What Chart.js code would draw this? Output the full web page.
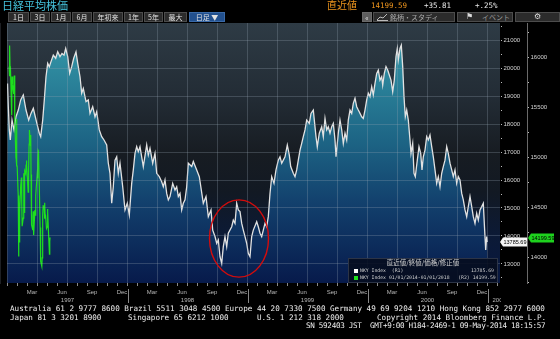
<!DOCTYPE html>
<html>
<head>
<meta charset="utf-8">
<script src="https://cdn.jsdelivr.net/npm/chart.js@4.4.1/dist/chart.umd.min.js"></script>
<style>
  html, body { margin: 0; padding: 0; background: #000; }
  #wrap { position: relative; width: 560px; height: 339px; overflow: hidden; background: #000; }
  canvas { position: absolute; left: 0; top: 0; }
  .t { position: absolute; white-space: pre; line-height: 1; }
  .cjk { font-family: 'Noto Sans CJK JP', sans-serif; }
  .mono { font-family: 'DejaVu Sans Mono', monospace; }
  .btn { position: absolute; top: 12px; height: 10px; box-sizing: border-box; background: #2b2b2b;
         border: 1px solid #4c4c4c; color: #e2e2e2; font: 7px 'Noto Sans CJK JP', sans-serif;
         line-height: 8px; text-align: center; }
  .foot { position: absolute; white-space: pre; line-height: 1; color: #eee;
          font: 7.6px 'DejaVu Sans Mono', monospace; }
  #legend { position: absolute; left: 348px; top: 258px; width: 150px; height: 25px; box-sizing: border-box;
            background: rgba(6, 12, 30, 0.88); border: 1px solid #2c3446; }
  #legend .t { color: #d0d0d0; }
  .sq { position: absolute; width: 4px; height: 4px; }
</style>
</head>
<body>
<div id="wrap">
  <canvas id="chart" width="560" height="339"></canvas>

  <div class="t cjk" style="left:2px;top:0px;font-size:11px;color:#45c3dd">日経平均株価</div>
  <div class="t cjk" style="left:327px;top:0px;font-size:10px;color:#f0961e">直近値</div>
  <div class="t mono" style="left:371px;top:2px;font-size:7.5px;color:#f0961e">14199.59</div>
  <div class="t mono" style="left:424px;top:2px;font-size:7.5px;color:#e6e6e6">+35.81</div>
  <div class="t mono" style="left:475px;top:2px;font-size:7.5px;color:#e6e6e6">+.25%</div>

  <div class="btn" style="left:8px;width:21px">1日</div>
  <div class="btn" style="left:30px;width:20px">3日</div>
  <div class="btn" style="left:51px;width:20px">1月</div>
  <div class="btn" style="left:72px;width:20px">6月</div>
  <div class="btn" style="left:93px;width:30px">年初来</div>
  <div class="btn" style="left:124px;width:19px">1年</div>
  <div class="btn" style="left:144px;width:19px">5年</div>
  <div class="btn" style="left:164px;width:23px">最大</div>
  <div class="btn" style="left:189px;width:36px;background:#22508e;border-color:#3a6aa8">日足 ▼</div>

  <div class="btn" style="left:362px;width:10px;background:#5e5e5e;border-color:#6a6a6a">«</div>
  <div class="btn" style="left:373px;width:82px;color:#aaa;text-align:left;padding-left:16px">銘柄・スタディ</div>
  <svg style="position:absolute;left:377px;top:13px" width="11" height="8">
    <polyline points="0,7 3,4 6,5 10,1" fill="none" stroke="#bbb" stroke-width="1"/>
    <line x1="0" y1="7.5" x2="11" y2="7.5" stroke="#bbb" stroke-width="1"/>
  </svg>
  <div class="btn" style="left:457px;width:56px;color:#999;text-align:left;padding-left:24px">イベント</div>
  <div class="t" style="left:466px;top:12px;font:8px 'DejaVu Sans';color:#ddd">⚑</div>
  <div class="btn" style="left:515px;width:45px;font:8px 'DejaVu Sans';line-height:8px;color:#ddd">⚙</div>

  <div id="legend">
    <div class="t cjk" style="left:0;width:148px;text-align:center;top:0px;font-size:6.5px">直近値/終値/価格/修正値</div>
    <div class="sq" style="left:5px;top:10px;background:#fff"></div>
    <div class="t mono" style="left:11px;top:9.5px;font-size:4.8px">NKY Index  (R1)</div>
    <div class="t mono" style="right:3px;top:9.5px;font-size:4.8px">13785.69</div>
    <div class="sq" style="left:5px;top:17px;background:#1ee01e"></div>
    <div class="t mono" style="left:11px;top:16.5px;font-size:4.8px">NKY Index 01/01/2014-01/01/2018   (R2) 14199.59</div>
  </div>

  <div class="foot" style="left:10px;top:304px">Australia 61 2 9777 8600 Brazil 5511 3048 4500 Europe 44 20 7330 7500 Germany 49 69 9204 1210 Hong Kong 852 2977 6000</div>
  <div class="foot" style="left:10px;top:312.5px">Japan 81 3 3201 8900</div>
  <div class="foot" style="left:128px;top:312.5px">Singapore 65 6212 1000</div>
  <div class="foot" style="left:257px;top:312.5px">U.S. 1 212 318 2000</div>
  <div class="foot" style="left:377px;top:312.5px">Copyright 2014 Bloomberg Finance L.P.</div>
  <div class="foot" style="left:306px;top:321px;letter-spacing:-0.3px">SN 592403 JST  GMT+9:00 H184-2469-1 09-May-2014 18:15:57</div>
</div>

<script>
// NKY Index closes, 1997-2000; time in months since 1 Jan 1997
const nkyT = [
  0.00,0.08,0.18,0.28,0.45,0.65,0.85,1.08,1.32,1.58,1.85,2.12,2.35,2.58,2.78,2.98,3.18,3.32,3.52,3.68,
  3.85,4.02,4.18,4.35,4.58,4.82,5.02,5.25,5.45,5.65,5.82,6.02,6.22,6.42,6.62,6.85,7.02,7.25,7.42,7.58,
  7.85,8.08,8.25,8.52,8.75,8.92,9.18,9.42,9.65,9.92,10.08,10.25,10.42,10.58,10.75,10.92,11.08,11.25,11.52,11.75,
  11.98,12.18,12.42,12.58,12.75,12.92,13.08,13.25,13.58,13.92,14.08,14.25,14.52,14.75,14.92,15.18,15.42,15.58,15.75,15.92,
  16.08,16.25,16.52,16.75,16.92,17.08,17.25,17.42,17.58,17.75,17.92,18.08,18.42,18.58,18.92,19.18,
  19.58,19.85,20.08,20.35,20.52,20.75,20.92,21.08,21.25,21.42,21.58,21.75,21.92,22.08,22.42,22.58,22.75,22.92,23.08,23.25,
  23.42,23.58,23.75,23.92,24.08,24.25,24.42,24.58,24.92,25.08,25.25,25.42,25.58,25.75,25.92,26.08,26.25,26.42,26.65,26.85,
  27.08,27.25,27.42,27.58,27.75,27.98,28.18,28.32,28.58,28.75,28.92,29.08,29.25,29.42,29.58,29.75,29.92,30.18,30.35,30.58,
  30.68,30.85,30.98,31.18,31.42,31.58,31.75,31.92,32.08,32.25,32.42,32.58,32.75,32.85,33.08,33.25,33.42,
  33.58,33.75,33.92,34.08,34.25,34.42,34.58,34.75,34.92,35.08,35.25,35.42,35.58,35.75,35.92,36.08,36.25,36.42,36.58,36.75,
  36.92,37.08,37.25,37.42,37.52,37.68,37.85,38.02,38.18,38.35,38.52,38.68,38.85,38.98,39.08,39.25,39.38,39.52,39.65,39.78,
  39.92,40.08,40.25,40.35,40.52,40.65,40.78,40.98,41.15,41.32,41.45,41.58,41.75,41.92,42.08,42.25,42.42,42.58,42.75,42.92,
  43.08,43.25,43.42,43.58,43.75,43.92,44.08,44.25,44.42,44.58,44.75,44.92,45.08,45.25,45.42,45.58,45.75,45.92,46.08,46.25,
  46.42,46.58,46.75,46.92,47.08,47.25,47.42,47.58,47.68,47.82,47.92,47.97
];
const nkyClose = [
  19450,18620,17790,17430,18140,17790,18260,18500,18860,19040,18500,18140,18380,18560,18260,17960,17670,17550,18140,18860,
  19690,20170,20050,20230,20460,20350,20580,20410,20520,20460,20700,20410,19810,20050,20350,20580,20170,19690,19100,19270,
  18800,18860,18380,18620,18260,18440,17790,17550,17430,17250,16600,16240,15170,15760,16710,16830,16240,16600,15760,14930,
  15170,14750,15880,16360,16950,17190,17010,17190,16480,17250,16890,17130,16600,16950,16240,16120,15940,15760,16000,15520,
  15290,15410,15880,15640,15760,15410,15520,14930,15170,15290,15760,16600,16480,16660,16360,16120,
  15170,15410,14690,14930,14210,13980,13740,13860,13260,13020,13620,13980,13620,14100,14330,14570,14450,15170,14930,14870,
  14450,14210,13980,13740,13380,13260,13980,14210,14510,14330,14100,13980,14210,14450,14330,14690,15520,16120,15880,16360,
  16710,16830,16600,16710,16830,17250,16890,16480,16240,16120,16360,16710,17070,17310,17550,17790,18140,18020,18380,18500,
  18140,17550,17190,17670,17900,17550,18200,17790,17900,17670,17900,18020,17430,16830,17670,18140,17790,
  17310,17670,17430,18140,18500,18380,18740,18920,18620,18500,18380,18260,18200,18500,18860,19100,18980,19330,19040,19450,
  19810,19930,19570,19690,19390,19810,20050,19930,19750,19570,19160,19570,20410,20700,20290,20700,20820,20050,18980,18260,
  18500,18140,17430,16950,17310,16240,16120,16710,17190,16950,16360,16830,17070,17550,17430,17610,17190,16830,16360,15880,
  16120,15760,16240,16480,16710,17190,16950,16600,16360,16120,16360,15880,16120,16000,15520,15290,14930,14690,15050,15410,
  15050,14690,14450,14810,14570,14930,15050,15170,14450,13500,13980,13785.69
];

// NKY Index 2014 (R2), drawn on the same Jan..Dec grid
const nky14Date = [
  '1/6','1/7','1/8','1/9','1/10','1/14','1/15','1/16','1/17','1/20','1/21','1/22','1/23','1/24','1/27','1/28','1/29','1/30','1/31',
  '2/3','2/4','2/5','2/6','2/7','2/10','2/12','2/13','2/14','2/17','2/18','2/19','2/20','2/21','2/24','2/25','2/26','2/27','2/28',
  '3/3','3/4','3/5','3/6','3/7','3/10','3/11','3/12','3/13','3/14','3/17','3/18','3/19','3/20','3/24','3/25','3/26','3/27','3/28','3/31',
  '4/1','4/2','4/3','4/4','4/7','4/8','4/9','4/10','4/11','4/14','4/15','4/16','4/17','4/18','4/21','4/22','4/23','4/24','4/25','4/28','4/30',
  '5/1','5/2','5/7','5/8','5/9'
];
const nky14Close = [
  15908,15814,16121,15880,15912,15422,15809,15747,15734,15641,15795,15820,15695,15391,15006,14981,15384,14915,14915,
  14619,14009,14181,14155,14463,14719,14800,14535,14313,14394,14843,14767,14450,14866,14838,14924,14970,14924,14841,
  14653,14721,14898,15135,15274,15120,15224,14831,14816,14328,14278,14412,14463,14224,14475,14424,14478,14623,14696,14828,
  14792,14946,15071,15063,14607,14607,14300,14300,13960,13910,13997,14418,14417,14516,14513,14388,14547,14405,14430,14289,14304,
  14486,14458,14034,14164,14199.59
];

const tickMonths = ['Mar', 'Jun', 'Sep', 'Dec'];
const years = ['1997', '1998', '1999', '2000', '2001'];
// red ellipse drawn round the autumn 1998 trough
const circleMonths = [20.2, 26.1];
const circleValues = [12530, 15290];

function monthPos(s) {
  const [mo, d] = s.split('/').map(Number);
  const dim = new Date(2014, mo, 0).getDate();
  return mo - 1 + (d - 1) / dim;
}

function range(from, to, step) {
  const out = [];
  for (let v = from; v <= to; v += step) out.push({ value: v });
  return out;
}

const gridCol = 'rgba(150,165,180,0.28)';
const labelFont = { family: 'Liberation Sans', size: 6 };

const plotBg = {
  id: 'plotBg',
  beforeDraw(chart) {
    const { ctx, chartArea: a } = chart;
    const g = ctx.createLinearGradient(0, a.top, 0, a.bottom);
    g.addColorStop(0, '#2e3b45');
    g.addColorStop(0.3, '#222b34');
    g.addColorStop(0.5, '#171c22');
    g.addColorStop(0.65, '#121923');
    g.addColorStop(0.82, '#0c1a36');
    g.addColorStop(1, '#071741');
    ctx.save();
    ctx.fillStyle = g;
    ctx.fillRect(a.left, a.top, a.right - a.left, a.bottom - a.top);
    ctx.restore();
  }
};

const extras = {
  id: 'extras',
  afterDraw(chart) {
    const { ctx, chartArea: a } = chart;
    const x = chart.scales.x, r1 = chart.scales.r1, r2 = chart.scales.r2;
    ctx.save();

    // year labels and year separators under the axis
    ctx.font = "6px 'Liberation Sans'";
    ctx.fillStyle = '#b8b8b8';
    ctx.textBaseline = 'middle';
    ctx.beginPath();
    ctx.rect(0, a.bottom, a.right + 1, 30);
    ctx.clip();
    years.forEach((yr, i) => {
      if (i < years.length - 1) {
        ctx.textAlign = 'center';
        ctx.fillText(yr, x.getPixelForValue(i * 12 + 6), a.bottom + 17);
      } else {
        ctx.textAlign = 'left';
        ctx.fillText(yr, x.getPixelForValue(i * 12) + 5, a.bottom + 17);
      }
      if (i > 0) {
        const px = Math.round(x.getPixelForValue(i * 12)) + 0.5;
        ctx.strokeStyle = '#8a8a8a';
        ctx.lineWidth = 1;
        ctx.beginPath();
        ctx.moveTo(px, a.bottom + 6);
        ctx.lineTo(px, a.bottom + 20);
        ctx.stroke();
      }
    });
    ctx.restore();

    // red ellipse
    ctx.save();
    const x0 = x.getPixelForValue(circleMonths[0]), x1 = x.getPixelForValue(circleMonths[1]);
    const y0 = r1.getPixelForValue(circleValues[1]), y1 = r1.getPixelForValue(circleValues[0]);
    ctx.strokeStyle = '#d40c0c';
    ctx.lineWidth = 1.4;
    ctx.beginPath();
    ctx.ellipse((x0 + x1) / 2, (y0 + y1) / 2, (x1 - x0) / 2, (y1 - y0) / 2, 0, 0, Math.PI * 2);
    ctx.stroke();
    ctx.restore();

    // last value tags on both axes
    const tag = (scale, val, bg, left, right) => {
      const y = Math.round(scale.getPixelForValue(val));
      ctx.fillStyle = bg;
      ctx.beginPath();
      ctx.moveTo(left, y);
      ctx.lineTo(left + 3, y - 4.5);
      ctx.lineTo(right, y - 4.5);
      ctx.lineTo(right, y + 4.5);
      ctx.lineTo(left + 3, y + 4.5);
      ctx.closePath();
      ctx.fill();
      ctx.fillStyle = '#000';
      ctx.font = "5.5px 'Liberation Sans'";
      ctx.textAlign = 'left';
      ctx.textBaseline = 'middle';
      ctx.fillText(val.toFixed(2), left + 3.5, y + 0.5);
    };
    ctx.save();
    tag(r1, nkyClose[nkyClose.length - 1], '#f4f4f4', r1.left, r1.right);
    tag(r2, nky14Close[nky14Close.length - 1], '#1ed21e', r2.left + 1, r2.left + 27);
    ctx.restore();
  }
};

const xTicks = [];
for (let m = 0; m <= 49; m++) xTicks.push(m);
for (let y = 0; y < 4; y++) tickMonths.forEach((_, i) => xTicks.push(y * 12 + i * 3 + 2.45));
xTicks.sort((a, b) => a - b);

const isMonthStart = v => Math.abs(v - Math.round(v)) < 0.01;

const ctx = document.getElementById('chart').getContext('2d');
new Chart(ctx, {
  type: 'line',
  data: {
    datasets: [
      {
        label: 'NKY Index 01/01/2014-01/01/2018 (R2)',
        data: nky14Date.map((d, i) => ({ x: monthPos(d), y: nky14Close[i] })),
        yAxisID: 'r2',
        borderColor: '#1ee01e',
        borderWidth: 1.2,
        pointRadius: 0,
        tension: 0,
        fill: false,
        order: 1
      },
      {
        label: 'NKY Index (R1)',
        data: nkyT.map((t, i) => ({ x: t, y: nkyClose[i] })),
        yAxisID: 'r1',
        borderColor: '#e2e2e2',
        borderWidth: 1.3,
        pointRadius: 0,
        tension: 0,
        fill: 'start',
        order: 2,
        backgroundColor(c) {
          const a = c.chart.chartArea;
          if (!a) return 'transparent';
          const g = c.chart.ctx.createLinearGradient(0, a.top, 0, a.bottom);
          g.addColorStop(0, '#3a9fb2');
          g.addColorStop(0.15, '#2f8ca0');
          g.addColorStop(0.45, '#1d6585');
          g.addColorStop(0.7, '#123f6c');
          g.addColorStop(1, '#071a4b');
          return g;
        }
      }
    ]
  },
  options: {
    responsive: false,
    animation: false,
    devicePixelRatio: 1,
    layout: { padding: { left: 7, top: 23, right: 0, bottom: 34 } },
    plugins: { legend: { display: false }, tooltip: { enabled: false } },
    scales: {
      x: {
        type: 'linear',
        min: -0.05,
        max: 49.25,
        afterBuildTicks(s) { s.ticks = xTicks.map(v => ({ value: v })); },
        afterFit(s) { s.height = 22; },
        border: { display: false },
        grid: {
          z: 1,
          color: c => (isMonthStart(c.tick.value) && Math.round(c.tick.value) % 3 === 0) ? gridCol : 'transparent',
          tickColor: c => isMonthStart(c.tick.value) ? '#8a8a8a' : 'transparent',
          tickLength: 3
        },
        ticks: {
          autoSkip: false,
          maxRotation: 0,
          padding: 3,
          color: '#b8b8b8',
          font: labelFont,
          callback: v => isMonthStart(v) ? '' : tickMonths[Math.round((v - 2.45) % 12 / 3)]
        }
      },
      r1: {
        position: 'right',
        weight: 0,
        min: 12320,
        max: 21610,
        afterBuildTicks(s) { s.ticks = range(12500, 21500, 500); },
        afterFit(s) { s.width = 27; },
        border: { display: true, color: '#3a3f46' },
        grid: {
          z: 1,
          color: c => c.tick.value % 1000 === 0 ? gridCol : 'transparent',
          tickColor: '#bbbbbb',
          tickLength: 2
        },
        ticks: {
          autoSkip: false,
          padding: 1.5,
          color: '#d4d4d4',
          font: labelFont,
          callback: v => v % 1000 === 0 ? String(v) : ''
        }
      },
      r2: {
        position: 'right',
        weight: 1,
        min: 13745,
        max: 16345,
        afterBuildTicks(s) { s.ticks = range(13750, 16250, 250); },
        afterFit(s) { s.width = 33; },
        border: { display: true, color: '#6a6a6a' },
        grid: { drawOnChartArea: false, tickColor: '#bbbbbb', tickLength: 2 },
        ticks: {
          autoSkip: false,
          padding: 1.5,
          color: '#d4d4d4',
          font: labelFont,
          callback: v => v % 500 === 0 ? String(v) : ''
        }
      }
    }
  },
  plugins: [plotBg, extras]
});
</script>
</body>
</html>
